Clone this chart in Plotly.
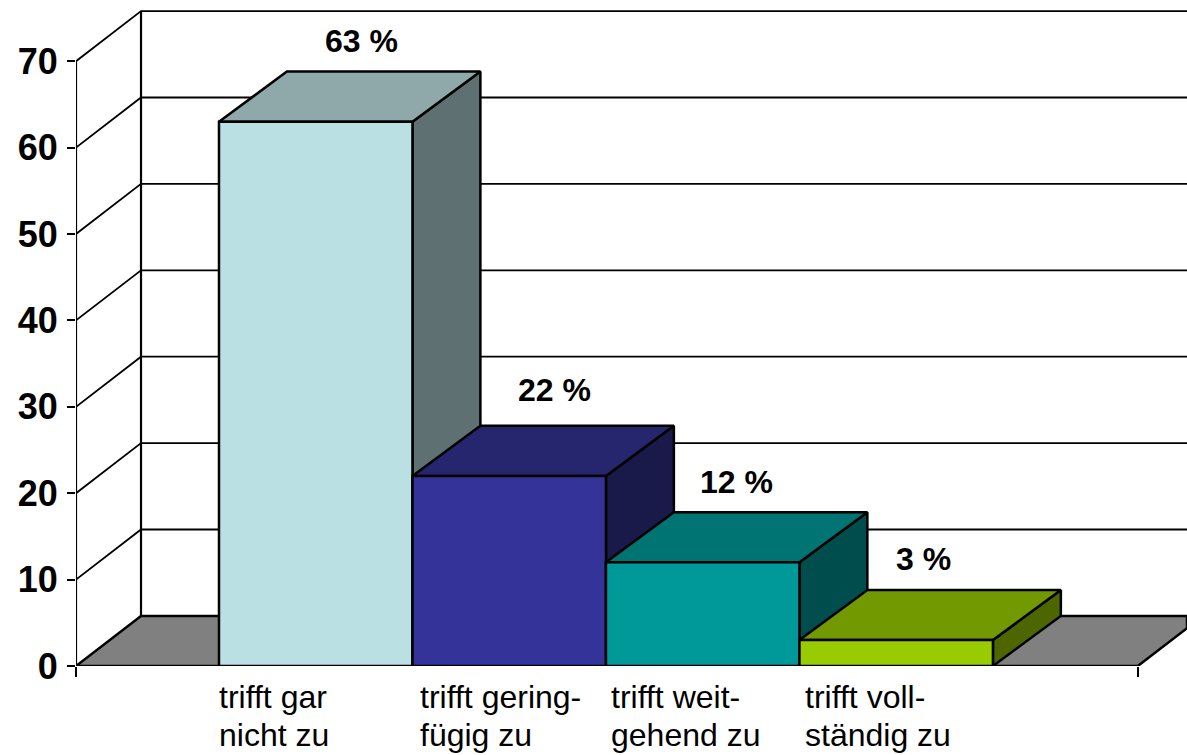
import plotly.graph_objects as go

categories = ["trifft gar\nnicht zu", "trifft gering-\nfügig zu", "trifft weit-\ngehend zu", "trifft voll-\nständig zu"]
values = [63, 22, 12, 3]
value_labels = ["63 %", "22 %", "12 %", "3 %"]
y_ticks = [0, 10, 20, 30, 40, 50, 60, 70]
front_colors = ["#BAE0E3", "#333399", "#009999", "#99CC00"]
top_colors = ["#8FA8AA", "#26266F", "#007373", "#739900"]
side_colors = ["#5E7072", "#1A1A4A", "#004D4D", "#4D6600"]

# Scale: one category step on x, percentage points on y
X_MIN, X_MAX = -0.739, 5.003
Y_MIN, Y_MAX = 0, 76.04
FLOOR_END = 4.749
DEPTH_X_WALL, DEPTH_X_BAR, DEPTH_Y = 0.336, 0.351, 5.8
BAR_WIDTH = 1.0
label_dx = [0.737, 0.732, 0.675, 0.639]      # value label centre, from bar left
label_dy = [3.5, 4.2, 3.5, 3.6]              # value label centre, above bar's rear top
cat_shift = [-2, 6, 3, 4]                    # category text nudge (px)

FONT = "Liberation Sans, Arial, sans-serif"
fig = go.Figure()


def poly(xs, ys, fill=None, width=2.5):
    fig.add_trace(go.Scatter(
        x=xs, y=ys, mode="lines",
        line=dict(color="black", width=width),
        fill="toself" if fill else None,
        fillcolor=fill, hoverinfo="skip", showlegend=False))


# floor
xb = X_MIN + DEPTH_X_WALL
poly([X_MIN, xb, X_MAX, X_MAX, FLOOR_END, X_MIN],
     [0, DEPTH_Y, DEPTH_Y, (X_MAX - FLOOR_END) * DEPTH_Y / DEPTH_X_WALL, 0, 0],
     "#808080", 2.5)

# walls and gridlines
for v in y_ticks[1:]:
    poly([X_MIN, xb, X_MAX], [v, v + DEPTH_Y, v + DEPTH_Y], width=1.8)
poly([X_MIN, X_MIN], [0, y_ticks[-1]], width=2.2)
poly([xb, xb], [DEPTH_Y, y_ticks[-1] + DEPTH_Y], width=2.2)

# bars
for i, v in enumerate(values):
    l, r = float(i), i + BAR_WIDTH
    poly([r, r + DEPTH_X_BAR, r + DEPTH_X_BAR, r, r], [0, DEPTH_Y, v + DEPTH_Y, v, 0], side_colors[i])
    poly([l, l + DEPTH_X_BAR, r + DEPTH_X_BAR, r, l], [v, v + DEPTH_Y, v + DEPTH_Y, v, v], top_colors[i])
    poly([l, r, r, l, l], [0, 0, v, v, 0], front_colors[i])

annotations = []
for i, v in enumerate(values):
    annotations.append(dict(
        x=i + label_dx[i], y=v + DEPTH_Y + label_dy[i], xref="x", yref="y",
        text=f"<b>{value_labels[i]}</b>", showarrow=False, xanchor="center", yanchor="middle",
        font=dict(family=FONT, size=32, color="black")))
    for n, line in enumerate(categories[i].split("\n")):
        annotations.append(dict(
            x=i, y=0, xref="x", yref="paper", xshift=cat_shift[i], yshift=-11 - 37.5 * n,
            text=line, showarrow=False, xanchor="left", yanchor="top", align="left",
            font=dict(family=FONT, size=32, color="black")))

fig.update_layout(
    width=1187, height=755, autosize=False,
    margin=dict(l=76, r=0, t=9, b=89, pad=0),
    paper_bgcolor="white", plot_bgcolor="white",
    showlegend=False, hovermode=False,
    xaxis=dict(range=[X_MIN, X_MAX], showgrid=False, zeroline=False, showline=False,
               tickmode="array", tickvals=[X_MIN, FLOOR_END], ticktext=["", ""],
               ticks="outside", ticklen=10, tickwidth=1.8, tickcolor="black"),
    yaxis=dict(range=[Y_MIN, Y_MAX], showgrid=False, zeroline=False, showline=False,
               tickmode="array", tickvals=y_ticks,
               ticks="outside", ticklen=8, tickwidth=1.8, tickcolor="black",
               ticklabelstandoff=2,
               tickfont=dict(family=FONT, size=36, color="black", weight="bold")),
    annotations=annotations,
)

fig.write_html("out.html", config={"displayModeBar": False},
               post_script="document.body.style.margin='0';")
